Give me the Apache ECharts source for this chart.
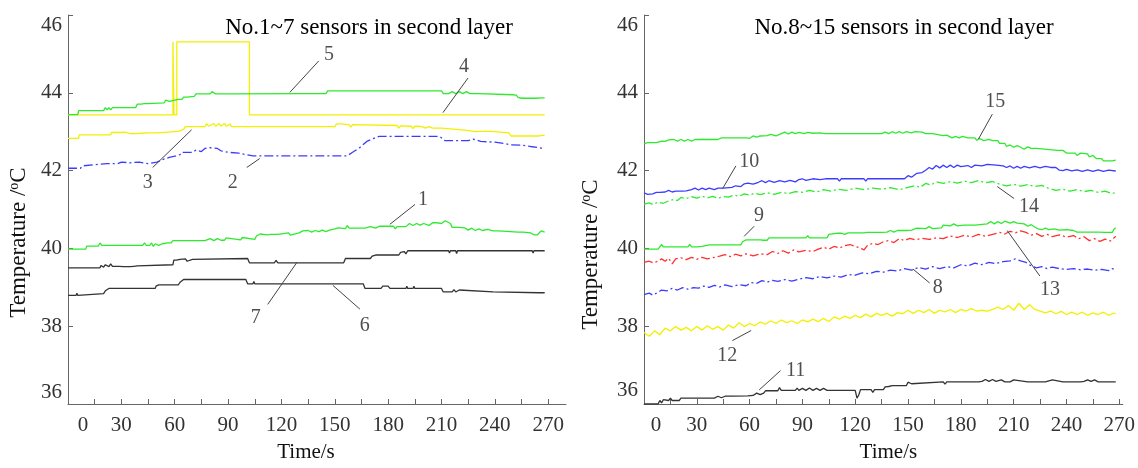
<!DOCTYPE html>
<html>
<head>
<meta charset="utf-8">
<script src="https://cdn.jsdelivr.net/npm/echarts@6/dist/echarts.min.js"></script>
<style>html,body{margin:0;padding:0;background:#fff;}#c{width:1138px;height:468px;}</style>
</head>
<body>
<div id="c"></div>
<script>
// ---------- tick labels ----------
const yTicks = [36, 38, 40, 42, 44, 46];
const xLabelTicks = [0, 30, 60, 90, 120, 150, 180, 210, 240, 270];
const xTickMarks = [0, 15, 30, 45, 60, 75, 90, 105, 120, 135, 150, 165, 180, 195, 210, 225, 240, 255, 270];

const titleLeft = 'No.1~7 sensors in second layer';
const titleRight = 'No.8~15 sensors in second layer';

// ---------- left panel: sensors 1-7  ([time s, temperature °C]) ----------
const s1 = [[0,39.98],[10,39.98],[10.5,40.06],[12,40.06],[13,40.01],[14,40.06],[17,40.06],[18,40.14],[19,40.08],[30,40.08],[31,40.03],[32,40.08],[42,40.08],[43,40.14],[44,40.08],[46,40.08],[47,40.14],[48,40.05],[49,40.12],[51,40.08],[53,40.12],[54,40.08],[56,40.14],[58,40.14],[59,40.2],[75,40.2],[76,40.25],[77,40.2],[80,40.25],[82,40.2],[84,40.25],[86,40.21],[88,40.21],[89,40.27],[90,40.22],[97,40.22],[98,40.28],[99,40.23],[105,40.23],[106,40.32],[108,40.37],[112,40.35],[113,40.31],[114,40.36],[118,40.36],[119,40.4],[124,40.4],[125,40.34],[126,40.39],[130,40.4],[132,40.45],[133,40.4],[135,40.46],[137,40.42],[139,40.46],[141,40.43],[143,40.47],[145,40.43],[147,40.47],[150,40.5],[152,40.53],[156,40.51],[157,40.59],[158,40.52],[164,40.52],[165,40.57],[167,40.52],[170,40.56],[173,40.52],[175,40.57],[183,40.57],[184,40.5],[185,40.56],[190,40.56],[192,40.64],[194,40.59],[196,40.64],[198,40.6],[200,40.64],[203,40.59],[205,40.66],[207,40.66],[208,40.71],[210,40.64],[212,40.71],[215,40.64],[216,40.54],[220,40.54],[221,40.49],[223,40.53],[225,40.47],[227,40.52],[229,40.46],[231,40.5],[233,40.46],[236,40.49],[239,40.45],[242,40.45],[243,40.42],[253,40.42],[254,40.37],[256,40.42],[260,40.4],[262,40.35],[264,40.35],[265,40.32],[266,40.45],[268,40.42]];
const s2 = [[0,42.06],[7,42.06],[8,42.12],[9,42.15],[14,42.15],[15,42.18],[22,42.18],[23,42.22],[28,42.18],[30,42.22],[35,42.2],[40,42.22],[45,42.18],[50,42.22],[53,42.28],[57,42.34],[60,42.37],[63,42.41],[64,42.47],[70,42.47],[72,42.53],[75,42.49],[77,42.57],[80,42.59],[84,42.57],[86,42.51],[90,42.47],[96,42.45],[100,42.41],[104,42.38],[157,42.38],[160,42.47],[164,42.59],[168,42.75],[172,42.83],[175,42.88],[209,42.88],[212,42.77],[225,42.77],[228,42.81],[232,42.75],[240,42.73],[246,42.69],[249,42.66],[256,42.65],[260,42.62],[266,42.58],[268,42.58]];
const s3 = [[0,42.83],[6,42.83],[6.3,42.92],[8.5,42.92],[9,42.87],[9.5,42.92],[11.5,42.92],[12,42.87],[12.5,42.92],[24,42.92],[24.5,42.98],[30,42.98],[31,42.95],[32,42.99],[35,42.95],[36,42.99],[38,42.95],[39,43.0],[41,42.96],[42,43.0],[45,42.97],[46,43.01],[50,42.97],[51,43.01],[62,43.01],[63,43.06],[65,43.06],[66,43.13],[77,43.13],[78,43.21],[79,43.14],[82,43.21],[83,43.14],[85,43.21],[86,43.14],[88,43.21],[89,43.14],[91,43.2],[92,43.13],[150,43.13],[151,43.2],[152,43.16],[153,43.2],[158,43.18],[159,43.12],[160,43.18],[185,43.16],[186,43.09],[187,43.15],[193,43.14],[194,43.08],[195,43.14],[197,43.14],[198,43.09],[199,43.13],[201,43.09],[203,43.13],[205,43.09],[210,43.09],[211,43.04],[223,43.04],[224,43.0],[229,43.0],[230,42.97],[232,43.01],[233,42.97],[235,43.01],[236,42.97],[238,43.01],[239,42.97],[248,42.97],[249,42.89],[265,42.89],[266,42.93],[268,42.91]];
const s4 = [[0,43.43],[59,43.43],[59,45.31],[59.6,45.31],[59.6,43.43],[61.2,43.43],[61.2,45.31],[102,45.31],[102,43.43],[268,43.43]];
const s5 = [[0,43.44],[5.5,43.44],[6,43.54],[20,43.54],[21,43.62],[22,43.56],[23,43.62],[24,43.56],[25,43.62],[26,43.6],[38,43.62],[39,43.71],[40,43.66],[41,43.71],[42,43.66],[43,43.72],[44,43.67],[45,43.72],[54,43.74],[55,43.81],[57,43.78],[58,43.81],[62,43.83],[63,43.88],[64,43.83],[65,43.89],[66,43.84],[67,43.89],[71,43.91],[72,43.97],[80,43.97],[81,44.03],[83,43.97],[86,43.97],[87,44.01],[88,43.97],[89,44.01],[90,43.97],[133,43.98],[134,43.94],[135,43.98],[136,43.94],[137,43.98],[140,43.98],[141,43.94],[142,43.98],[145,43.98],[146,44.05],[168,44.05],[169,44.01],[170,44.05],[208,44.05],[209,44.0],[210,44.05],[211,43.98],[212,44.03],[214,43.98],[216,44.03],[218,43.98],[220,44.03],[222,43.98],[224,44.03],[226,43.98],[231,43.98],[232,43.95],[250,43.95],[251,43.9],[252,43.94],[253,43.88],[255,43.86],[263,43.86],[264,43.91],[266,43.87],[268,43.87]];
const s6 = [[0,38.79],[4.5,38.79],[5,38.85],[5.5,38.79],[6,38.84],[20,38.84],[21,38.91],[22,38.87],[23,38.97],[33,38.97],[33.5,38.93],[34,38.97],[49,38.97],[49.5,39.03],[50.5,38.99],[51,39.06],[62,39.06],[63,39.13],[64,39.09],[65,39.2],[86,39.2],[87,39.25],[88,39.2],[100,39.2],[101,39.09],[104,39.09],[104.5,39.15],[105,39.09],[166,39.09],[167,38.97],[176,38.97],[177,39.03],[178,38.98],[180,39.03],[181,38.97],[190,38.97],[190.5,39.03],[191,38.97],[194,38.97],[194.5,39.03],[195,38.97],[210,38.97],[211,38.88],[216,38.88],[217,38.94],[218,38.88],[220,38.93],[221,38.88],[239,38.88],[240,38.86],[265,38.86],[265.5,38.81],[266,38.85],[268,38.86]];
const s7 = [[0,39.5],[18,39.5],[18.5,39.56],[19.5,39.58],[20,39.52],[21,39.58],[22,39.53],[23,39.53],[24,39.6],[25,39.54],[29,39.54],[30,39.58],[31,39.53],[35,39.53],[36,39.58],[37,39.54],[38,39.59],[39,39.55],[40,39.58],[59,39.58],[59.5,39.7],[61,39.7],[62,39.65],[63,39.72],[64,39.68],[66,39.73],[67,39.67],[68,39.72],[70,39.72],[71,39.74],[101,39.74],[102,39.63],[116,39.63],[117,39.69],[118,39.63],[155,39.63],[156,39.74],[170,39.74],[171,39.8],[172,39.75],[173,39.83],[186,39.83],[187,39.9],[188,39.85],[189,39.92],[190,39.86],[191,39.94],[214,39.94],[214.5,39.88],[215,39.94],[218,39.94],[218.5,39.87],[219,39.94],[261,39.94],[261.5,39.88],[262,39.94],[268,39.94]];

// ---------- right panel: sensors 8-15 ----------
const s8 = [[0,38.81],[3,38.85],[5,38.8],[8,38.87],[10,38.93],[13,38.91],[16,38.97],[19,38.93],[22,38.99],[25,38.95],[28,38.99],[31,38.98],[34,39.03],[37,39.0],[40,39.05],[43,39.01],[46,39.06],[50,39.02],[54,39.07],[58,39.04],[61,39.12],[64,39.1],[67,39.17],[70,39.13],[73,39.18],[76,39.15],[80,39.2],[84,39.16],[88,39.21],[92,39.25],[96,39.22],[100,39.28],[104,39.24],[108,39.29],[112,39.26],[116,39.33],[120,39.31],[124,39.37],[128,39.35],[132,39.41],[136,39.39],[140,39.44],[144,39.42],[148,39.48],[152,39.44],[156,39.51],[160,39.47],[164,39.53],[168,39.48],[172,39.53],[176,39.5],[180,39.58],[184,39.55],[188,39.62],[192,39.58],[196,39.64],[200,39.61],[204,39.66],[208,39.68],[211,39.73],[214,39.68],[217,39.64],[220,39.55],[223,39.5],[226,39.53],[229,39.48],[232,39.52],[236,39.48],[240,39.46],[244,39.48],[248,39.45],[252,39.47],[256,39.44],[260,39.46],[264,39.43],[266,39.48],[268,39.45]];
const s9 = [[0,39.98],[8,39.98],[9,40.04],[10,40.1],[11,40.04],[14,40.04],[15,40.0],[16,40.04],[25,40.04],[26,40.1],[27,40.04],[30,40.04],[31,40.09],[33,40.05],[34,40.09],[37,40.09],[38,40.14],[39,40.09],[50,40.09],[51,40.14],[52,40.09],[55,40.09],[56,40.17],[58,40.22],[66,40.22],[67,40.26],[68,40.21],[70,40.21],[71,40.27],[74,40.27],[75,40.22],[76,40.27],[80,40.27],[81,40.32],[82,40.27],[92,40.27],[93,40.33],[94,40.27],[104,40.27],[105,40.36],[106,40.39],[110,40.39],[111,40.34],[112,40.39],[114,40.36],[116,40.4],[125,40.4],[126,40.35],[127,40.41],[135,40.41],[136,40.46],[138,40.42],[140,40.46],[142,40.42],[144,40.46],[149,40.46],[150,40.51],[152,40.47],[155,40.52],[160,40.51],[162,40.56],[164,40.51],[169,40.53],[170,40.6],[174,40.58],[176,40.63],[178,40.58],[182,40.6],[186,40.6],[187,40.55],[188,40.6],[195,40.63],[197,40.69],[199,40.63],[201,40.69],[203,40.64],[205,40.7],[208,40.65],[210,40.69],[212,40.65],[213,40.6],[216,40.63],[218,40.57],[220,40.61],[222,40.55],[224,40.5],[226,40.48],[228,40.52],[230,40.48],[233,40.5],[236,40.47],[240,40.48],[244,40.46],[246,40.42],[250,40.42],[254,40.42],[258,40.42],[262,40.41],[266,40.41],[267,40.49],[268,40.53]];
const s10 = [[0,41.43],[2,41.39],[3,41.44],[5,41.4],[7,41.44],[9,41.44],[10,41.49],[12,41.45],[14,41.49],[16,41.45],[18,41.47],[22,41.47],[23,41.43],[24,41.48],[27,41.51],[29,41.55],[31,41.5],[33,41.55],[35,41.51],[37,41.55],[40,41.51],[42,41.55],[45,41.55],[46,41.59],[50,41.57],[52,41.61],[55,41.59],[57,41.66],[59,41.68],[62,41.65],[65,41.7],[67,41.74],[69,41.69],[71,41.74],[74,41.7],[77,41.74],[80,41.71],[83,41.75],[86,41.71],[88,41.77],[90,41.79],[92,41.75],[96,41.79],[100,41.77],[103,41.79],[110,41.79],[111,41.73],[112,41.79],[125,41.79],[126,41.73],[127,41.79],[148,41.79],[150,41.87],[152,41.83],[155,41.93],[158,41.95],[160,42.01],[162,42.08],[164,42.04],[166,42.13],[168,42.07],[170,42.14],[172,42.08],[174,42.14],[176,42.08],[178,42.14],[180,42.1],[184,42.13],[186,42.08],[188,42.14],[192,42.12],[195,42.16],[200,42.14],[204,42.12],[206,42.08],[208,42.12],[210,42.06],[212,42.11],[214,42.06],[216,42.11],[219,42.07],[222,42.11],[225,42.07],[228,42.11],[231,42.08],[234,42.08],[236,42.01],[238,42.0],[240,42.03],[243,41.99],[246,42.02],[249,41.98],[252,42.02],[255,41.98],[258,42.02],[261,41.98],[264,42.01],[268,41.99]];
const s11 = [[0,36.0],[8,36.0],[9,36.09],[10,36.03],[11,36.11],[12,36.09],[14,36.09],[15,36.15],[16,36.09],[20,36.09],[21,36.15],[30,36.15],[31,36.19],[32,36.15],[38,36.15],[39,36.19],[40,36.15],[42,36.2],[44,36.16],[46,36.2],[50,36.2],[51,36.21],[59,36.21],[60,36.26],[62,36.22],[64,36.28],[66,36.24],[68,36.28],[69,36.34],[76,36.34],[77,36.42],[78,36.35],[86,36.35],[87,36.41],[88,36.35],[90,36.4],[92,36.35],[94,36.41],[96,36.35],[98,36.4],[100,36.35],[102,36.4],[104,36.35],[108,36.35],[109,36.4],[110,36.35],[120,36.35],[121,36.15],[122,36.23],[123,36.37],[129,36.37],[130,36.3],[131,36.37],[136,36.37],[137,36.44],[138,36.4],[139,36.45],[140,36.41],[141,36.47],[149,36.47],[150,36.56],[152,36.52],[153,36.57],[170,36.57],[171,36.51],[172,36.57],[180,36.57],[181,36.52],[182,36.57],[190,36.57],[191,36.62],[192,36.58],[194,36.63],[196,36.58],[198,36.63],[200,36.58],[203,36.62],[205,36.57],[208,36.57],[210,36.62],[211,36.57],[218,36.57],[219,36.62],[220,36.57],[226,36.57],[227,36.52],[228,36.57],[232,36.62],[233,36.57],[238,36.57],[239,36.52],[240,36.57],[248,36.57],[249,36.62],[250,36.58],[252,36.62],[254,36.58],[256,36.62],[258,36.57],[268,36.57]];
const s12 = [[0,37.84],[3,37.74],[6,37.88],[9,37.78],[12,37.95],[15,37.88],[18,37.99],[21,37.9],[24,37.97],[27,37.88],[30,37.99],[33,37.9],[36,38.01],[39,37.92],[42,37.99],[45,37.9],[48,38.03],[51,37.95],[54,38.09],[57,37.99],[60,38.07],[63,38.01],[66,38.11],[69,38.05],[72,38.14],[75,38.07],[78,38.16],[81,38.09],[84,38.14],[87,38.07],[90,38.16],[93,38.11],[96,38.18],[99,38.12],[102,38.2],[105,38.12],[108,38.24],[111,38.18],[114,38.26],[117,38.2],[120,38.28],[123,38.22],[126,38.31],[129,38.24],[132,38.33],[135,38.28],[138,38.33],[141,38.26],[144,38.35],[147,38.32],[150,38.41],[153,38.33],[156,38.41],[159,38.35],[162,38.43],[165,38.33],[168,38.41],[171,38.37],[174,38.43],[177,38.35],[180,38.43],[183,38.39],[186,38.45],[189,38.39],[192,38.41],[195,38.39],[198,38.43],[201,38.49],[204,38.43],[207,38.53],[210,38.41],[213,38.59],[216,38.43],[219,38.55],[222,38.43],[225,38.39],[228,38.34],[231,38.39],[234,38.32],[237,38.38],[240,38.3],[243,38.36],[246,38.3],[249,38.36],[252,38.28],[255,38.34],[258,38.3],[261,38.36],[264,38.28],[267,38.34],[268,38.32]];
const s13 = [[0,39.64],[3,39.67],[5,39.63],[8,39.67],[10,39.73],[12,39.67],[14,39.75],[16,39.6],[18,39.73],[21,39.76],[24,39.71],[27,39.77],[30,39.72],[33,39.77],[36,39.73],[40,39.77],[43,39.8],[46,39.84],[49,39.79],[52,39.85],[55,39.81],[58,39.86],[62,39.81],[66,39.86],[70,39.84],[73,39.92],[76,39.87],[79,39.94],[82,39.88],[85,39.96],[88,39.91],[92,39.95],[96,39.92],[99,39.98],[102,40.03],[105,39.98],[108,40.05],[111,40.01],[114,40.07],[117,40.1],[120,40.05],[123,40.01],[125,39.96],[127,40.08],[130,40.13],[133,40.1],[136,40.17],[139,40.2],[142,40.15],[145,40.25],[148,40.2],[151,40.26],[154,40.22],[158,40.26],[162,40.23],[166,40.27],[170,40.25],[174,40.32],[178,40.28],[182,40.34],[186,40.29],[190,40.36],[194,40.31],[198,40.36],[202,40.41],[205,40.37],[208,40.44],[211,40.4],[214,40.45],[217,40.41],[220,40.34],[223,40.38],[226,40.31],[229,40.36],[232,40.3],[236,40.35],[240,40.29],[244,40.33],[247,40.25],[250,40.3],[253,40.2],[256,40.25],[259,40.18],[262,40.24],[265,40.19],[268,40.31]];
const s14 = [[0,41.14],[3,41.17],[5,41.13],[8,41.19],[11,41.16],[14,41.22],[17,41.26],[19,41.23],[21,41.31],[24,41.28],[27,41.33],[30,41.29],[33,41.34],[36,41.3],[39,41.34],[42,41.29],[45,41.33],[48,41.32],[51,41.37],[54,41.34],[57,41.4],[60,41.37],[63,41.42],[66,41.38],[70,41.43],[74,41.39],[78,41.44],[82,41.41],[86,41.46],[90,41.44],[94,41.49],[98,41.45],[102,41.51],[106,41.47],[110,41.52],[115,41.49],[120,41.55],[125,41.51],[130,41.55],[135,41.52],[140,41.56],[145,41.51],[150,41.57],[154,41.61],[157,41.57],[160,41.67],[163,41.63],[166,41.71],[170,41.67],[174,41.72],[178,41.68],[182,41.73],[186,41.69],[190,41.74],[194,41.69],[198,41.72],[202,41.65],[206,41.61],[210,41.65],[214,41.6],[218,41.64],[222,41.59],[226,41.62],[230,41.54],[234,41.49],[238,41.52],[242,41.47],[246,41.51],[250,41.46],[254,41.49],[258,41.44],[262,41.47],[266,41.41],[268,41.44]];
const s15 = [[0,42.69],[2,42.72],[3,42.68],[5,42.72],[6,42.68],[7,42.72],[8,42.76],[10,42.76],[11,42.8],[12,42.75],[14,42.79],[15,42.75],[17,42.8],[19,42.76],[21,42.8],[23,42.76],[25,42.8],[27,42.76],[29,42.8],[33,42.8],[34,42.75],[35,42.8],[39,42.8],[40,42.85],[42,42.8],[44,42.84],[50,42.84],[51,42.8],[52,42.84],[58,42.84],[59,42.89],[60,42.83],[62,42.89],[64,42.86],[66,42.89],[70,42.9],[72,42.93],[75,42.89],[78,42.95],[80,42.99],[82,42.94],[84,42.99],[86,42.95],[88,42.98],[91,42.95],[93,42.98],[96,42.96],[100,42.97],[103,42.95],[106,42.95],[107,42.9],[108,42.95],[120,42.95],[121,42.9],[122,42.95],[135,42.95],[137,42.99],[139,42.95],[141,43.0],[143,42.96],[145,43.0],[147,42.96],[149,43.0],[152,42.97],[154,43.0],[158,42.99],[160,42.95],[164,42.95],[165,42.9],[170,42.9],[171,42.87],[172,42.91],[175,42.84],[177,42.88],[179,42.84],[181,42.88],[184,42.84],[188,42.84],[189,42.78],[191,42.82],[193,42.77],[196,42.8],[198,42.77],[201,42.77],[202,42.7],[205,42.7],[206,42.62],[208,42.66],[210,42.6],[212,42.64],[214,42.6],[216,42.55],[218,42.61],[220,42.57],[223,42.57],[224,42.52],[235,42.52],[236,42.47],[238,42.52],[240,42.45],[245,42.45],[246,42.39],[248,42.45],[252,42.43],[253,42.35],[255,42.39],[257,42.31],[260,42.31],[261,42.25],[266,42.25],[267,42.29],[268,42.27]];

// ---------- curve number annotations: [label, text point, leader start, leader end] in data units ----------
const notesLeft = [
  ['5', [146.7, 44.97], [141.0, 44.82], [124.7, 44.01]],
  ['4', [222.7, 44.67], [224.9, 44.38], [210.8, 43.49]],
  ['3', [44.8, 41.69], [47.6, 42.08], [69.5, 43.05]],
  ['2', [92.6, 41.69], [100.5, 42.08], [107.8, 42.31]],
  ['1', [199.6, 41.26], [195.1, 41.13], [181.0, 40.62]],
  ['7', [105.6, 38.23], [112.3, 38.56], [128.7, 39.64]],
  ['6', [166.9, 38.0], [164.1, 38.44], [148.9, 39.05]]
];
const notesRight = [
  ['15', [199.5, 43.78], [197.9, 43.45], [190.0, 42.81]],
  ['10', [59.8, 42.22], [52.2, 42.12], [44.7, 41.54]],
  ['14', [218.7, 41.08], [210.3, 41.28], [200.7, 41.59]],
  ['9', [65.4, 40.85], [62.6, 40.57], [56.9, 40.31]],
  ['13', [230.6, 38.93], [224.9, 39.29], [206.3, 40.46]],
  ['8', [166.9, 38.98], [162.3, 39.11], [152.8, 39.47]],
  ['12', [47.3, 37.25], [50.2, 37.63], [60.9, 37.89]],
  ['11', [86.2, 36.86], [77.6, 36.86], [65.4, 36.36]]
];

// ---------- styling ----------
const FONT = "'Liberation Serif', 'Times New Roman', serif";
const GREEN = '#2eea2e', BLUE = '#3c3cff', YELLOW = '#f2f000', RED = '#ff3030', BLACK = '#333333';
const DASHDOT = [9, 3, 2, 3];

function curve(name, data, color, dashed, gi) {
  return {
    type: 'line', name: name, data: data, xAxisIndex: gi, yAxisIndex: gi,
    showSymbol: false, symbol: 'none', silent: true, animation: false,
    lineStyle: { color: color, width: 1.3, type: dashed ? DASHDOT : 'solid' },
    itemStyle: { color: color }
  };
}
function leaders(notes, gi) {
  return {
    type: 'lines', coordinateSystem: 'cartesian2d', xAxisIndex: gi, yAxisIndex: gi,
    silent: true, animation: false, z: 5,
    lineStyle: { color: '#444', width: 1, opacity: 1, curveness: 0 },
    data: notes.map(n => ({ coords: [n[2], n[3]] }))
  };
}
function noteLabels(notes, gi) {
  return {
    type: 'scatter', xAxisIndex: gi, yAxisIndex: gi, silent: true, animation: false, z: 6,
    symbol: 'circle', symbolSize: 1, itemStyle: { color: 'rgba(0,0,0,0)' },
    label: { show: true, position: 'inside', formatter: '{b}', fontFamily: FONT, fontSize: 20, color: '#222' },
    data: notes.map(n => ({ name: n[0], value: n[1] }))
  };
}
function xAxisCfg(gi, max, zeroPad, namePad) {
  return {
    type: 'value', gridIndex: gi, min: 0, max: max,
    axisLine: { show: true, lineStyle: { color: '#666', width: 1 } },
    axisTick: { show: true, inside: true, length: 5, customValues: xTickMarks, lineStyle: { color: '#666' } },
    axisLabel: {
      show: true, customValues: xLabelTicks, margin: 11, fontFamily: FONT, fontSize: 21, color: '#333',
      formatter: v => v === 0 ? '{z|0}' : String(v),
      rich: { z: { fontFamily: FONT, fontSize: 21, color: '#333', padding: [0, 0, 0, zeroPad] } }
    },
    splitLine: { show: false },
    name: 'Time/s', nameLocation: 'middle', nameGap: 38,
    nameTextStyle: { fontFamily: FONT, fontSize: 21, color: '#111', padding: namePad }
  };
}
function yAxisCfg(gi, topPad, botPad, namePad, nameGap) {
  return {
    type: 'value', gridIndex: gi, min: 36, max: 46, interval: 2,
    axisLine: { show: true, lineStyle: { color: '#666', width: 1 } },
    axisTick: { show: true, inside: true, length: 5, lineStyle: { color: '#666' } },
    axisLabel: {
      show: true, margin: 6, fontFamily: FONT, fontSize: 21, color: '#333',
      formatter: v => v === 46 ? '{t|46}' : (v === 36 ? '{b|36}' : String(v)),
      rich: {
        t: { fontFamily: FONT, fontSize: 21, color: '#333', padding: [topPad, 0, 0, 0] },
        b: { fontFamily: FONT, fontSize: 21, color: '#333', padding: [0, 0, botPad, 0] }
      }
    },
    splitLine: { show: false },
    name: 'Temperature /{s|o}C', nameLocation: 'middle', nameGap: nameGap,
    nameTextStyle: {
      fontFamily: FONT, fontSize: 23, color: '#111', padding: namePad,
      rich: { s: { fontFamily: FONT, fontSize: 14, color: '#111', verticalAlign: 'top' } }
    }
  };
}

const chart = echarts.init(document.getElementById('c'), null, { renderer: 'canvas' });
chart.setOption({
  backgroundColor: '#ffffff',
  animation: false,
  title: [
    { text: titleLeft, left: 364, top: 11, textAlign: 'center', textStyle: { fontFamily: FONT, fontSize: 23, fontWeight: 'normal', color: '#000' } },
    { text: titleRight, left: 899, top: 11, textAlign: 'center', textStyle: { fontFamily: FONT, fontSize: 23, fontWeight: 'normal', color: '#000' } }
  ],
  grid: [
    { left: 68, top: 15, width: 498, height: 390, containLabel: false },
    { left: 644, top: 15, width: 483, height: 392, containLabel: false }
  ],
  xAxis: [xAxisCfg(0, 280, 30, [0, 22, 0, 0]), xAxisCfg(1, 272, 24, [0, 0, 0, 10])],
  yAxis: [yAxisCfg(0, 20, 24, [0, 66, 0, 0], 38), yAxisCfg(1, 20, 28, [0, 90, 0, 0], 42)],
  series: [
    curve('1', s1, GREEN, false, 0),
    curve('2', s2, BLUE, true, 0),
    curve('3', s3, YELLOW, false, 0),
    curve('4', s4, YELLOW, false, 0),
    curve('5', s5, GREEN, false, 0),
    curve('6', s6, BLACK, false, 0),
    curve('7', s7, BLACK, false, 0),
    curve('8', s8, BLUE, true, 1),
    curve('9', s9, GREEN, false, 1),
    curve('10', s10, BLUE, false, 1),
    curve('11', s11, BLACK, false, 1),
    curve('12', s12, YELLOW, false, 1),
    curve('13', s13, RED, true, 1),
    curve('14', s14, GREEN, true, 1),
    curve('15', s15, GREEN, false, 1),
    leaders(notesLeft, 0), noteLabels(notesLeft, 0),
    leaders(notesRight, 1), noteLabels(notesRight, 1)
  ]
});
</script>
</body>
</html>
